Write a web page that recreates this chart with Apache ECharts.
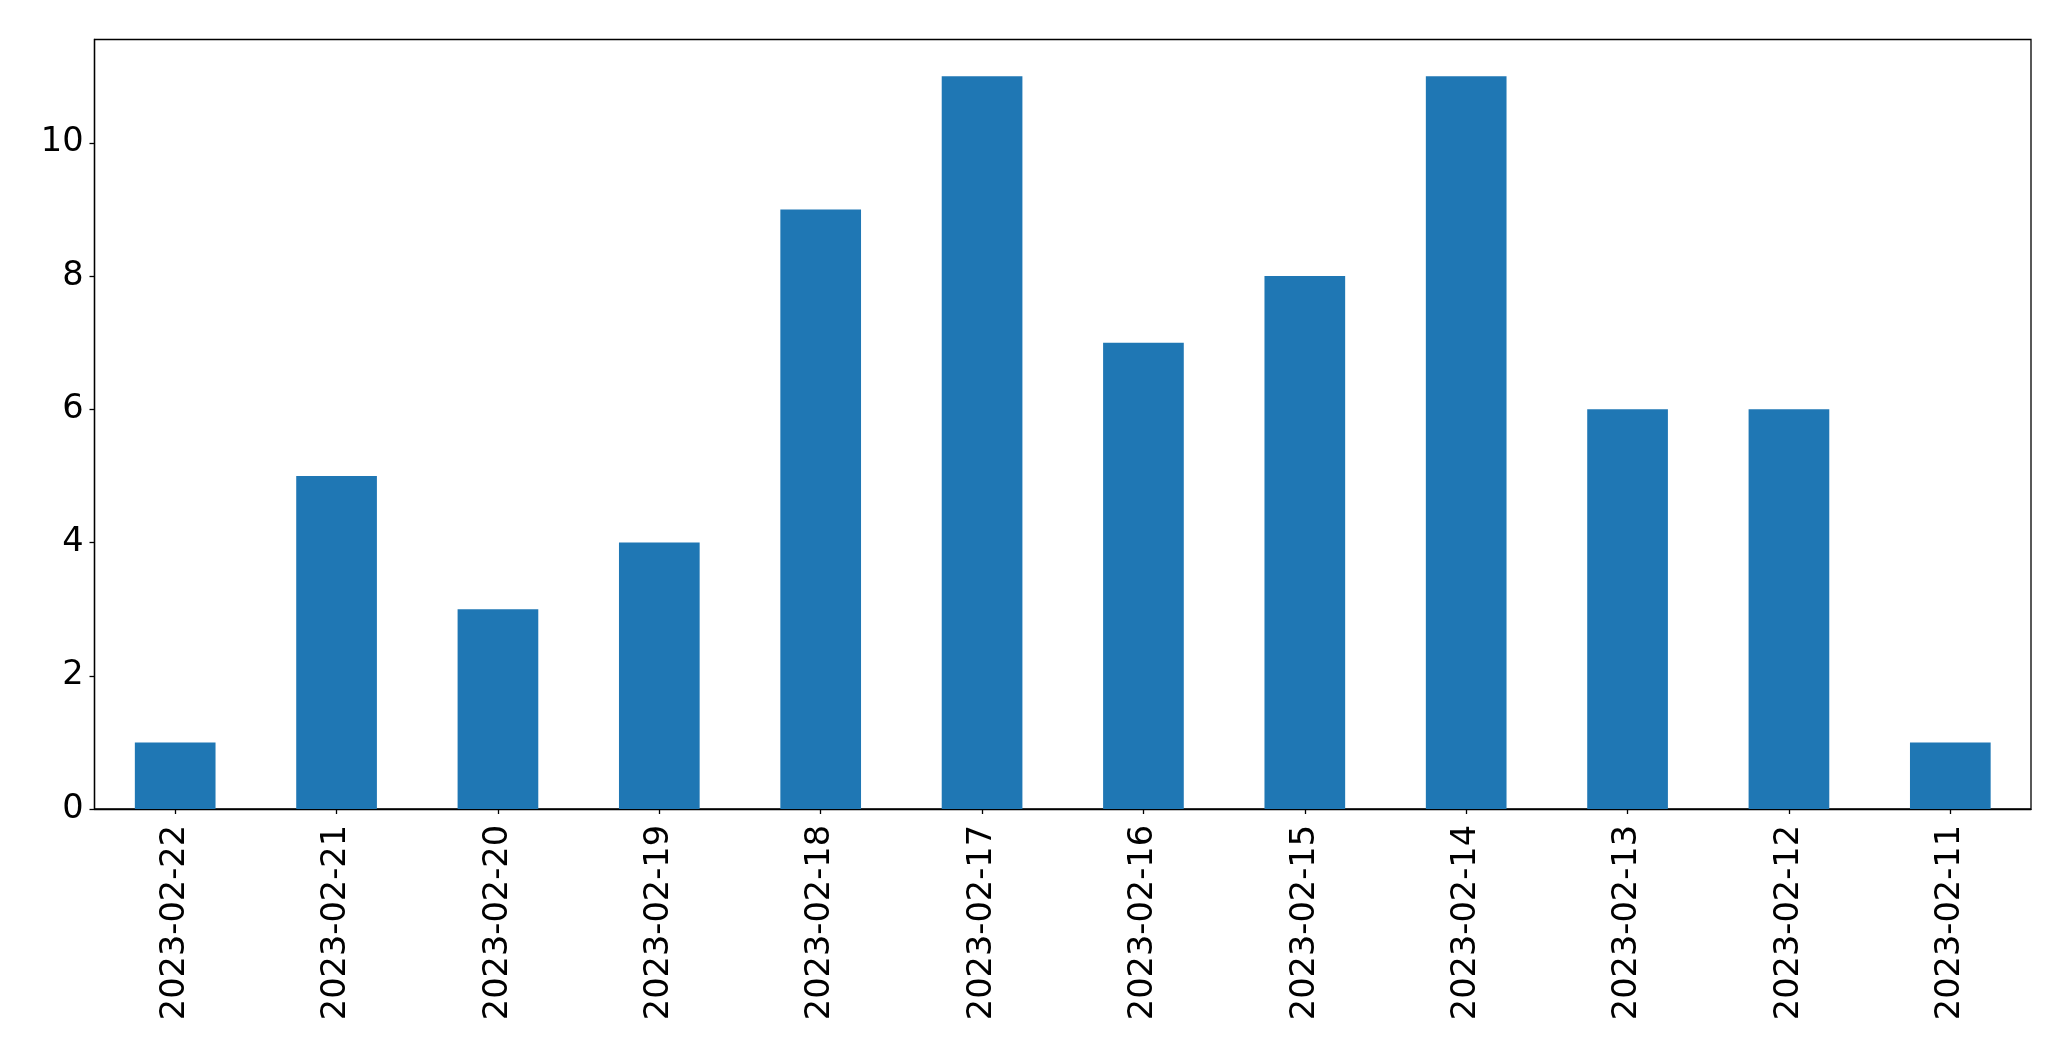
<!DOCTYPE html>
<html>
<head>
<meta charset="utf-8">
<script src="https://cdn.jsdelivr.net/npm/echarts@6/dist/echarts.min.js"></script>
<style>
html,body{margin:0;padding:0;background:#fff;}
#chart{width:2071px;height:1061px;}
</style>
</head>
<body>
<div id="chart"></div>
<script>
const categories = ["2023-02-22","2023-02-21","2023-02-20","2023-02-19","2023-02-18","2023-02-17","2023-02-16","2023-02-15","2023-02-14","2023-02-13","2023-02-12","2023-02-11"];
const values = [1,5,3,4,9,11,7,8,11,6,6,1];
const yTicks = [0,2,4,6,8,10];

const chart = echarts.init(document.getElementById('chart'), null, {renderer:'canvas'});
const font = 'DejaVu Sans';
chart.setOption({
  animation:false,
  backgroundColor:'#fff',
  grid:{left:94.5,top:39.5,width:1936.5,height:769.5,show:true,borderColor:'#000',borderWidth:1.3,backgroundColor:'transparent'},
  xAxis:{
    type:'category',
    data:categories,
    boundaryGap:true,
    axisLine:{show:true,lineStyle:{color:'#000',width:1.3}},
    axisTick:{show:true,alignWithLabel:true,length:5,lineStyle:{color:'#000',width:1.3}},
    axisLabel:{rotate:90,margin:16,fontFamily:font,fontSize:33.6,color:'#000',interval:0},
    splitLine:{show:false}
  },
  yAxis:{
    type:'value',
    min:0,max:11.55,
    axisLine:{show:true,lineStyle:{color:'#000',width:1.3}},
    axisTick:{show:true,length:5,customValues:yTicks,lineStyle:{color:'#000',width:1.3}},
    axisLabel:{margin:11,fontFamily:font,fontSize:33.6,color:'#000',customValues:yTicks},
    splitLine:{show:false}
  },
  series:[{
    type:'bar',
    data:values,
    barWidth:'50%',
    itemStyle:{color:'#1f77b4'}
  }]
});
</script>
</body>
</html>
